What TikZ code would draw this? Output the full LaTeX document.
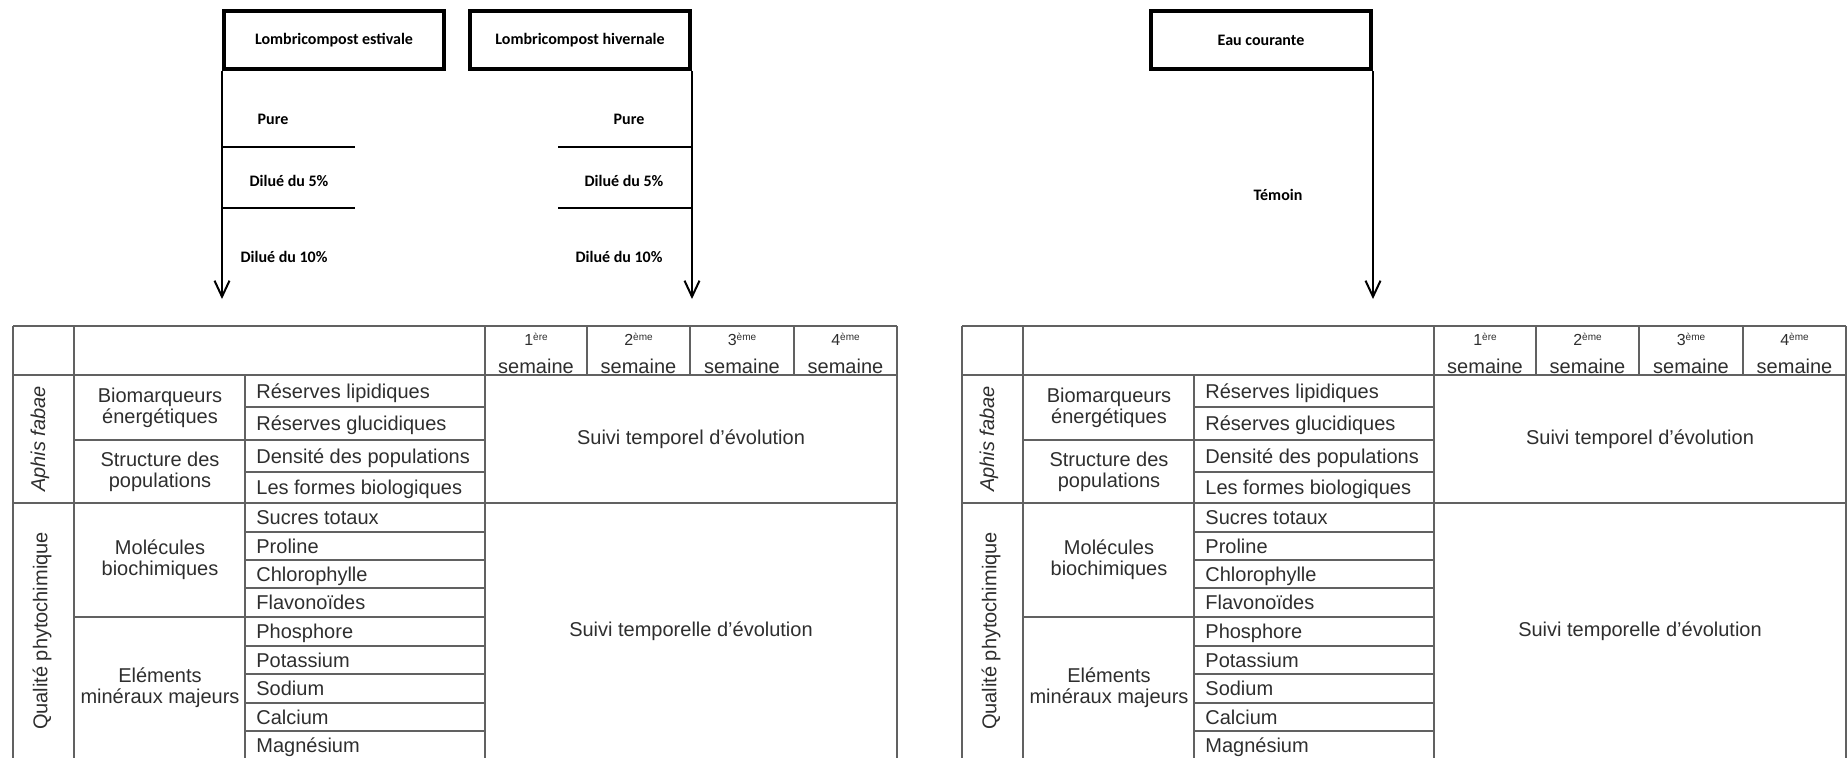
\documentclass[tikz,border=0pt]{standalone}
\usepackage{fontspec}
\setmainfont{Liberation Sans}
\newfontfamily\calfont{Carlito}
\usetikzlibrary{arrows.meta}
\definecolor{tabline}{gray}{0.38}
\definecolor{tabtext}{gray}{0.18}
\tikzset{
  topbox/.style={draw=black,line width=2pt,minimum width=110pt,minimum height=29pt,inner sep=0pt,
    font=\calfont\bfseries\fontsize{8}{9.6}\selectfont},
  lab/.style={anchor=base,inner sep=0pt,font=\calfont\bfseries\fontsize{8}{9.6}\selectfont},
  conn/.style={draw=black,line width=1pt},
  arr/.style={conn,-{Straight Barb[length=8pt,width=7.5pt]}},
  gridline/.style={draw=tabline,line width=0.9pt},
  cell/.style={inner sep=0pt,text=tabtext,font=\fontsize{10}{10.5}\selectfont},
  item/.style={cell,anchor=base west},
  grp/.style={cell,align=center},
  wk/.style={cell,anchor=base},
  side/.style={cell,rotate=90},
}
\begin{document}
\begin{tikzpicture}[x=0.5pt,y=-0.5pt]
\useasboundingbox (0,0) rectangle (1847,757);

% ---------- top boxes ----------
\node[topbox] (b1) at (334,40) {Lombricompost estivale};
\node[topbox] (b2) at (580,40) {Lombricompost hivernale};
\node[topbox] (b3) at (1261,40) {Eau courante};
\coordinate (tipy) at (0,299);

\draw[arr] (b1.south west) -- (b1.south west |- tipy);
\draw[arr] (b2.south east) -- (b2.south east |- tipy);
\draw[arr] (b3.south east) -- (b3.south east |- tipy);

\draw[conn] (b1.south west |- 0,147) -- ++(133,0);
\draw[conn] (b1.south west |- 0,208) -- ++(133,0);
\draw[conn] (b2.south east |- 0,147) -- ++(-134,0);
\draw[conn] (b2.south east |- 0,208) -- ++(-134,0);

\node[lab] (l1) at (273,124) {Pure};
\node[lab] (l2) at (289,186) {Dilué du 5\%};
\node[lab] (l3) at (284,262) {Dilué du 10\%};
\node[lab] (r1) at (629,124) {Pure};
\node[lab] (r2) at (624,186) {Dilué du 5\%};
\node[lab] (r3) at (619,262) {Dilué du 10\%};
\node[lab] (tm) at (1278,200) {Témoin};

% ---------- tables ----------
\foreach \o/\p in {0/L,949/R}{
\begin{scope}[shift={(\o,0)}]
  % horizontal lines
  \draw[gridline] (13,326) -- (897,326);
  \draw[gridline] (13,375) -- (897,375);
  \draw[gridline] (13,503) -- (897,503);
  \draw[gridline] (74,440) -- (485,440);
  \draw[gridline] (74,617) -- (485,617);
  \foreach \yy in {407,472,532,560,588,646,674,703,731}
    \draw[gridline] (245,\yy) -- (485,\yy);
  % vertical lines
  \foreach \xx in {13,74,485,897}
    \draw[gridline] (\xx,326) -- (\xx,760);
  \draw[gridline] (245,375) -- (245,760);
  \foreach \xx in {587,690,794}
    \draw[gridline] (\xx,326) -- (\xx,375);

  % header
  \foreach \xx/\na/\sa [count=\k] in {536/1/ère,638.5/2/ème,742/3/ème,845.5/4/ème}{
    \node[wk] (\p-wn\k) at (\xx,345) {\fontsize{8}{8}\selectfont\na\raisebox{2.2pt}{\fontsize{5}{5}\selectfont\sa}};
    \node[wk] (\p-ws\k) at (\xx,373) {semaine};
  }

  % side labels
  \node[side] (\p-aph) at (40,439) {\itshape Aphis fabae};
  \node[side] (\p-qual) at (42,631) {Qualité phytochimique};

  % groups
  \node[grp] (\p-g1) at (160,407.5) {Biomarqueurs\\énergétiques};
  \node[grp] (\p-g2) at (160,471.5) {Structure des\\populations};
  \node[grp] (\p-g3) at (160,560) {Molécules\\biochimiques};
  \node[grp] (\p-g4) at (160,688) {Eléments\\minéraux majeurs};

  % items
  \foreach \t/\yy [count=\i] in {Réserves lipidiques/391,Réserves glucidiques/423.5,
      Densité des populations/456,Les formes biologiques/487.5,Sucres totaux/517.5,
      Proline/546,Chlorophylle/574,Flavonoïdes/602.5,Phosphore/631.5,Potassium/660,
      Sodium/688.5,Calcium/717,Magnésium/745}
    \node[item] (\p-it\i) at (256,\yy+7) {\t};

  % follow-up texts
  \node[cell] (\p-s1) at (691,439) {Suivi temporel d’évolution};
  \node[cell] (\p-s2) at (691,631) {Suivi temporelle d’évolution};
\end{scope}
}
\end{tikzpicture}
\end{document}
